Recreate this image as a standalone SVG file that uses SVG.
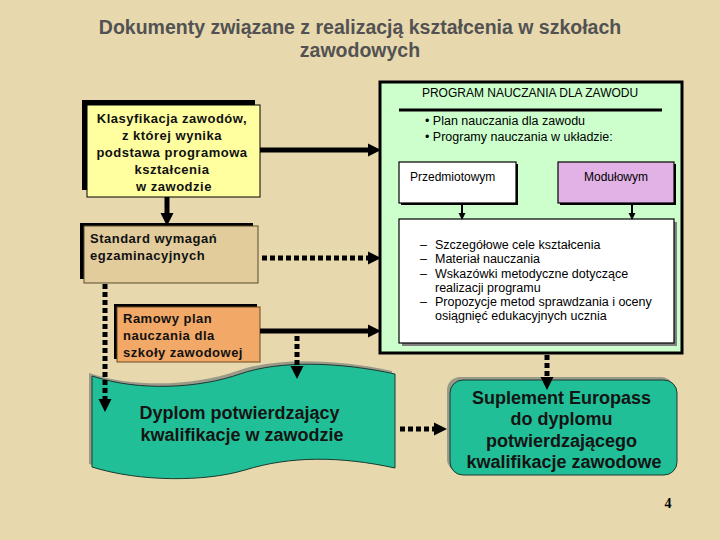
<svg xmlns="http://www.w3.org/2000/svg" width="720" height="540" viewBox="0 0 720 540">
<defs>
<style>
.t{font-family:"Liberation Sans",Arial,sans-serif;}
.title{font-size:19.5px;font-weight:bold;fill:#525252;}
.lab13{font-size:13px;font-weight:bold;fill:#111;letter-spacing:0.5px;}
.lab12{font-size:12px;fill:#000;}
.lab125{font-size:12.5px;fill:#000;}
.big{font-size:18px;font-weight:bold;fill:#141414;}
.solid{stroke:#000;stroke-width:5;fill:none;}
.dot{stroke:#000;stroke-width:5;fill:none;stroke-dasharray:5,3;}
.thin{stroke:#000;stroke-width:2;fill:none;}
</style>
<marker id="ah" viewBox="0 0 10 10" refX="0" refY="5" markerUnits="userSpaceOnUse" markerWidth="13" markerHeight="15" orient="auto">
<path d="M0,0 L10,5 L0,10 z" fill="#000"/>
</marker>
<marker id="ahs" viewBox="0 0 10 10" refX="0" refY="5" markerUnits="userSpaceOnUse" markerWidth="7" markerHeight="8" orient="auto">
<path d="M0,0 L10,5 L0,10 z" fill="#000"/>
</marker>
</defs>
<rect x="0" y="0" width="720" height="540" fill="#e8d8ae"/>

<g id="title">
<text class="t title" x="360" y="34" text-anchor="middle">Dokumenty związane z realizacją kształcenia w szkołach</text>
<text class="t title" x="360" y="57" text-anchor="middle">zawodowych</text>
</g>

<g id="klasyfikacja">
<rect x="82" y="100" width="173" height="90" fill="#000"/>
<rect x="87" y="105" width="173" height="92" fill="#ffffa0" stroke="#000" stroke-width="1"/>
<text class="t lab13" text-anchor="middle">
<tspan x="174" y="123">Klasyfikacja zawodów,</tspan>
<tspan x="174" y="140">z której wynika</tspan>
<tspan x="174" y="157">podstawa programowa</tspan>
<tspan x="174" y="174">kształcenia</tspan>
<tspan x="174" y="191">w zawodzie</tspan>
</text>
</g>

<g id="standard">
<rect x="80" y="223" width="173" height="56" fill="#000"/>
<rect x="84" y="226" width="174" height="57" fill="#e2cc9b" stroke="#5a4a30" stroke-width="1"/>
<text class="t lab13">
<tspan x="90" y="243">Standard wymagań</tspan>
<tspan x="90" y="260">egzaminacyjnych</tspan>
</text>
</g>

<g id="ramowy">
<rect x="114" y="304" width="143" height="55" fill="#000"/>
<rect x="117" y="307" width="143" height="55" fill="#f2a866" stroke="#6a4a20" stroke-width="1"/>
<text class="t lab13">
<tspan x="123" y="323">Ramowy plan</tspan>
<tspan x="123" y="340">nauczania dla</tspan>
<tspan x="123" y="357">szkoły zawodowej</tspan>
</text>
</g>

<g id="program">
<rect x="380" y="82" width="302" height="271" fill="#ccffcc" stroke="#000" stroke-width="3"/>
<text class="t lab12" x="530" y="97" text-anchor="middle">PROGRAM NAUCZANIA DLA ZAWODU</text>
<line x1="399" y1="110" x2="662" y2="110" stroke="#000" stroke-width="3"/>
<text class="t lab125" x="425" y="125">• Plan nauczania dla zawodu</text>
<text class="t lab125" x="425" y="141">• Programy nauczania w układzie:</text>
</g>

<g id="przedmiotowym">
<rect x="401" y="164" width="117" height="41" fill="#000"/>
<rect x="399" y="162" width="117" height="41" fill="#fff" stroke="#000" stroke-width="1.2"/>
<text class="t lab12" x="410" y="181">Przedmiotowym</text>
</g>

<g id="modulowym">
<rect x="560" y="164" width="116" height="41" fill="#000"/>
<rect x="558" y="162" width="116" height="41" fill="#e2b2e6" stroke="#000" stroke-width="1.2"/>
<text class="t lab12" x="616" y="181" text-anchor="middle">Modułowym</text>
</g>

<g id="tresci">
<rect x="402" y="222" width="275" height="124" fill="#808080"/>
<rect x="399" y="219" width="275" height="124" fill="#fff" stroke="#000" stroke-width="1.2"/>
<text class="t lab125">
<tspan x="420" y="249">–</tspan><tspan x="435" y="249">Szczegółowe cele kształcenia</tspan>
<tspan x="420" y="263">–</tspan><tspan x="435" y="263">Materiał nauczania</tspan>
<tspan x="420" y="278">–</tspan><tspan x="435" y="278">Wskazówki metodyczne dotyczące</tspan>
<tspan x="435" y="292">realizacji programu</tspan>
<tspan x="420" y="306">–</tspan><tspan x="435" y="306">Propozycje metod sprawdzania i oceny</tspan>
<tspan x="435" y="320">osiągnięć edukacyjnych ucznia</tspan>
</text>
</g>

<g id="dyplom">
<path d="M89,373 C137,389 197,385 237,371 C277,357 337,359 392,371 L392,465 C337,453 287,453 242,467 C202,479 137,479 89,464 Z" fill="#9a9a8a"/>
<path d="M92,376 C140,392 200,388 240,374 C280,360 340,362 395,374 L395,468 C340,456 290,456 245,470 C205,482 140,482 92,467 Z" fill="#20bf97" stroke="#1a3a30" stroke-width="1"/>
<text class="t big" text-anchor="middle">
<tspan x="242" y="419">Dyplom potwierdzający</tspan>
<tspan x="242" y="441">kwalifikacje w zawodzie</tspan>
</text>
</g>

<g id="suplement">
<rect x="447" y="377" width="227" height="95" rx="13" fill="#9a9a8a"/>
<rect x="450" y="380" width="227" height="95" rx="13" fill="#20bf97" stroke="#1a3a30" stroke-width="1"/>
<text class="t big" text-anchor="middle">
<tspan x="564" y="404">Suplement Europass</tspan>
<tspan x="564" y="425">do dyplomu</tspan>
<tspan x="564" y="447">potwierdzającego</tspan>
<tspan x="564" y="468">kwalifikacje zawodowe</tspan>
</text>
</g>

<g id="connectors">
<line class="solid" x1="260" y1="150" x2="368" y2="150" marker-end="url(#ah)"/>
<line class="dot" x1="262" y1="258" x2="368" y2="258" marker-end="url(#ah)"/>
<line class="solid" x1="260" y1="331" x2="368" y2="331" marker-end="url(#ah)"/>
<line class="solid" x1="167" y1="197" x2="167" y2="213" stroke-width="6" marker-end="url(#ah)"/>
<line class="dot" x1="105" y1="284" x2="105" y2="399" marker-end="url(#ah)"/>
<line class="dot" x1="297" y1="336" x2="297" y2="366" marker-end="url(#ah)"/>
<line class="dot" x1="547" y1="355" x2="547" y2="377" marker-end="url(#ah)"/>
<line class="dot" x1="400" y1="429" x2="434" y2="429" marker-end="url(#ah)"/>
<line class="thin" x1="462" y1="205" x2="462" y2="213" marker-end="url(#ahs)"/>
<line class="thin" x1="632" y1="205" x2="632" y2="213" marker-end="url(#ahs)"/>
</g>

<text x="668" y="508" font-family="'Liberation Serif','Times New Roman',serif" font-size="14" font-weight="bold" fill="#000" text-anchor="middle">4</text>
</svg>
